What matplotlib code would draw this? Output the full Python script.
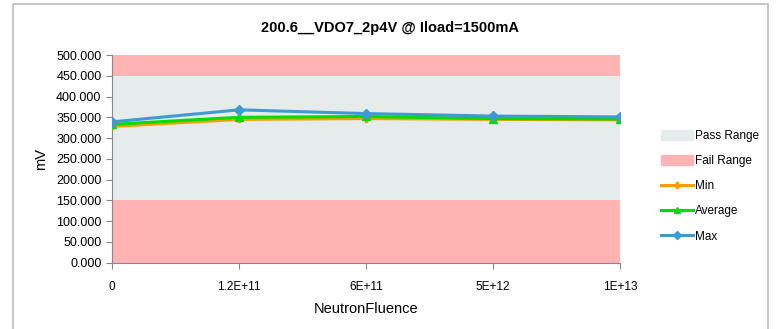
import matplotlib.pyplot as plt
from matplotlib.patches import Rectangle, Patch
from matplotlib.lines import Line2D

plt.rcParams['font.family'] = ['Liberation Sans', 'DejaVu Sans']

# Fluence steps and measured output voltage (mV)
fluence_labels = ["0", "1.2E+11", "6E+11", "5E+12", "1E+13"]
v_min = [328, 345, 347, 345, 344]
v_avg = [333, 350, 352, 347, 346]
v_max = [339, 368, 359, 353, 351]

# Limits
fail_low = 150
pass_high = 450
axis_top = 500

fig = plt.figure(figsize=(7.76, 3.29), dpi=100)
ax = fig.add_axes([0.1443, 0.2015, 0.6547, 0.6313])

x = list(range(len(fluence_labels)))
pink = "#FFB3B3"
grey = "#E6EBEB"
ax.fill_between(x, 0, fail_low, color=pink, lw=0)
ax.fill_between(x, fail_low, pass_high, color=grey, lw=0)
ax.fill_between(x, pass_high, axis_top, color=pink, lw=0)

c_min, c_avg, c_max = "#FF9A00", "#00DD00", "#3F9BCF"
ax.plot(x, v_min, color=c_min, lw=2.2, marker="P", ms=5, zorder=3)
ax.plot(x, v_avg, color=c_avg, lw=2.2, marker="^", ms=6, zorder=4)
ax.plot(x, v_max, color=c_max, lw=2.2, marker="D", ms=5, zorder=5)

ax.set_xlim(0, 4)
ax.set_ylim(0, axis_top)
ax.set_xticks(x)
ax.set_xticklabels(fluence_labels, fontsize=8.5)
ax.set_yticks(range(0, 501, 50))
ax.set_yticklabels([f"{v:.3f}" for v in range(0, 501, 50)], fontsize=9)
ax.tick_params(axis="both", color="#888888", length=4, width=0.8)
ax.tick_params(axis="x", pad=9)
for side in ("top", "right"):
    ax.spines[side].set_visible(False)
for side in ("left", "bottom"):
    ax.spines[side].set_color("#888888")

ax.set_xlabel("NeutronFluence", fontsize=10.5, labelpad=7)
ax.set_ylabel("mV", fontsize=10.5, labelpad=6)
fig.text(0.503, 0.915, "200.6__VDO7_2p4V @ Iload=1500mA",
         ha="center", va="center", fontsize=10.5, fontweight="bold")

handles = [
    Patch(color=grey, label="Pass Range"),
    Patch(color=pink, label="Fail Range"),
    Line2D([], [], color=c_min, lw=2.2, marker="P", ms=4, label="Min"),
    Line2D([], [], color=c_avg, lw=2.2, marker="^", ms=5, label="Average"),
    Line2D([], [], color=c_max, lw=2.2, marker="D", ms=4, label="Max"),
]
fig.legend(handles=handles, loc="upper left", bbox_to_anchor=(0.846, 0.62),
           frameon=False, fontsize=8.5, handlelength=2.7, handleheight=0.9,
           handletextpad=0.15, labelspacing=1.12, borderaxespad=0)

# outer chart frame
fig.patches.append(Rectangle((13 / 776, -0.1), (768 - 13) / 776, 1.1 - 4 / 329,
                             transform=fig.transFigure, fill=False,
                             edgecolor="#BBBBBB", lw=1.2))

fig.savefig("out.png", dpi=100)
